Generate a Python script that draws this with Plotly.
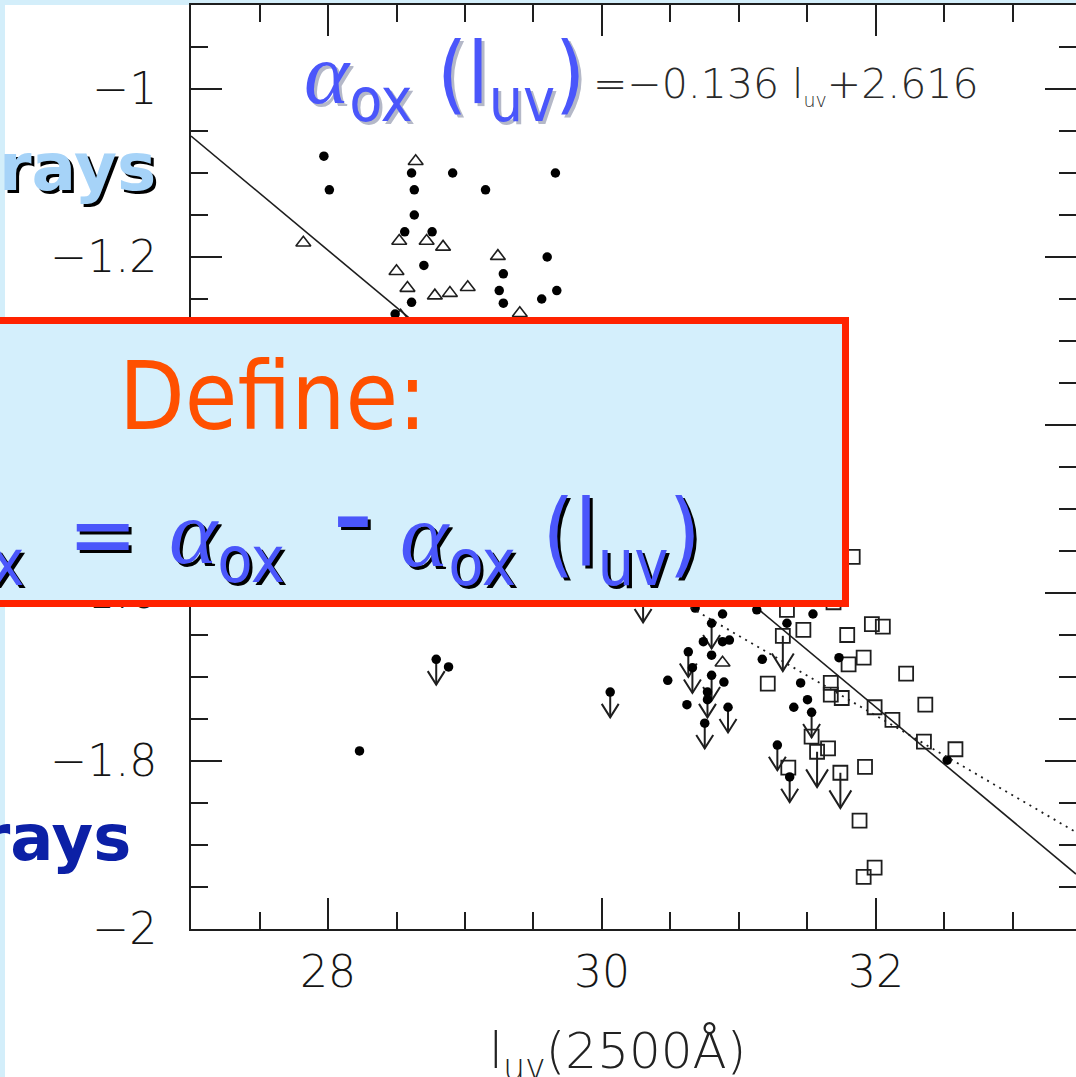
import plotly.graph_objects as go

# ---------------- data ----------------
# optically selected quasars, X-ray detections (filled circles)
det_luv = [27.97, 28.01, 28.61, 28.63, 28.63, 28.56, 28.76, 28.70, 28.91, 29.15,
           29.66, 29.60, 29.28, 29.25, 29.28, 29.56, 29.67, 28.61, 28.49,
           30.68, 30.88, 31.13, 31.54, 31.35, 30.74, 30.88, 30.93, 30.80, 30.48,
           30.89, 30.62, 30.77, 31.17, 31.45, 31.50, 31.40, 31.73, 32.52, 28.88, 28.23]
det_aox = [-1.080, -1.120, -1.100, -1.120, -1.150, -1.170, -1.170, -1.210, -1.100, -1.120,
           -1.100, -1.200, -1.220, -1.240, -1.255, -1.250, -1.240, -1.254, -1.268,
           -1.618, -1.625, -1.620, -1.625, -1.636, -1.658, -1.658, -1.656, -1.674, -1.704,
           -1.706, -1.733, -1.727, -1.679, -1.707, -1.727, -1.736, -1.677, -1.799, -1.688, -1.788]

# X-ray upper limits (filled circle with downward arrow)
lim_luv = [30.06, 30.30, 30.80, 30.63, 30.66, 30.80, 30.77, 30.75, 30.92, 31.53,
           31.28, 31.37, 28.79]
lim_aox = [-1.718, -1.605, -1.636, -1.670, -1.689, -1.698, -1.718, -1.755, -1.736, -1.742,
           -1.781, -1.819, -1.679]

# high-luminosity comparison sample (open squares)
sq_luv = [31.83, 31.35, 31.69, 31.47, 31.79, 31.97, 32.05, 31.80, 31.91, 31.21,
          31.67, 31.67, 31.75, 32.22, 31.99, 32.12, 32.36, 32.35, 32.58, 31.53,
          31.65, 31.36, 31.92, 31.88, 31.99, 31.91]
sq_aox = [-1.557, -1.620, -1.611, -1.644, -1.650, -1.637, -1.640, -1.685, -1.677, -1.708,
          -1.707, -1.721, -1.725, -1.696, -1.736, -1.751, -1.733, -1.777, -1.786, -1.771,
          -1.785, -1.808, -1.807, -1.871, -1.927, -1.938]
sq_lim_luv = [31.32, 31.57, 31.74]
sq_lim_aox = [-1.651, -1.789, -1.814]

# low-luminosity comparison sample (open triangles)
tri_luv = [28.64, 27.82, 28.52, 28.72, 28.84, 28.50, 28.58, 28.78, 28.89, 29.02,
           29.24, 29.40, 28.53, 30.88]
tri_aox = [-1.086, -1.183, -1.181, -1.181, -1.188, -1.217, -1.237, -1.246, -1.243, -1.236,
           -1.199, -1.267, -1.270, -1.683]

# best-fit relation and an alternative fit
fit_slope, fit_icpt = -0.136, 2.616
alt_slope, alt_icpt = -0.095, 1.294

x_range = [27.0, 33.46]
y_range = [-2.0, -0.9]
x_ticks = [28, 30, 32]
y_ticks = [-2.0, -1.8, -1.6, -1.4, -1.2, -1.0]
y_ticktext = ["\u22122", "\u22121.8", "\u22121.6", "\u22121.4", "\u22121.2", "\u22121"]

# ---------------- page geometry ----------------
W, H = 1076, 1077
ML, MR, MT, MB = 191, 0, 5, 148
PW, PH = W - ML - MR, H - MT - MB


def px(x):
    return (x - ML) / PW


def py(y):
    return (H - MB - y) / PH


INK = "#1e1e1e"
CHART_FONT = "DejaVu Sans, sans-serif"
SLIDE_FONT = "DejaVu Sans Condensed, Roboto, sans-serif"
BLUE = "#4a56fb"


def arrows(xs, ys, stem, half_w, head_h):
    """Downward upper-limit arrows: stem plus open V head, in data units."""
    ax, ay = [], []
    for x, y in zip(xs, ys):
        tip = y - stem
        ax += [x, x, None, x - half_w, x, x + half_w, None]
        ay += [y, tip, None, tip + head_h, tip, tip + head_h, None]
    return ax, ay


fig = go.Figure()

lx = list(x_range)
fig.add_trace(go.Scatter(x=lx, y=[fit_slope * v + fit_icpt for v in lx], mode="lines",
                         line=dict(color=INK, width=1.6), hoverinfo="skip"))
ax2 = [29.5, x_range[1]]
fig.add_trace(go.Scatter(x=ax2, y=[alt_slope * v + alt_icpt for v in ax2], mode="lines",
                         line=dict(color=INK, width=1.8, dash="2px,5px"), yaxis="y2",
                         hoverinfo="skip"))

axs, ays = arrows(lim_luv, lim_aox, 0.030, 0.062, 0.016)
fig.add_trace(go.Scatter(x=axs, y=ays, mode="lines", line=dict(color=INK, width=2),
                         hoverinfo="skip"))
axs, ays = arrows(sq_lim_luv, sq_lim_aox, 0.042, 0.080, 0.021)
fig.add_trace(go.Scatter(x=axs, y=ays, mode="lines", line=dict(color=INK, width=2),
                         hoverinfo="skip"))

fig.add_trace(go.Scatter(x=sq_luv + sq_lim_luv, y=sq_aox + sq_lim_aox, mode="markers",
                         marker=dict(symbol="square-open", size=14, color=INK,
                                     line=dict(width=1.8))))
fig.add_trace(go.Scatter(x=tri_luv, y=tri_aox, mode="markers",
                         marker=dict(symbol="triangle-up-open", size=13, color=INK,
                                     line=dict(width=1.6))))
fig.add_trace(go.Scatter(x=det_luv + lim_luv, y=det_aox + lim_aox, mode="markers",
                         marker=dict(symbol="circle", size=9.5, color="#000000")))

tick_font = dict(family=CHART_FONT, size=44, color="#151515", weight=300)
fig.update_layout(
    width=W, height=H, autosize=False,
    margin=dict(l=ML, r=MR, t=MT, b=MB, pad=0),
    paper_bgcolor="#d3eefa", plot_bgcolor="#ffffff",
    showlegend=False,
    xaxis=dict(range=x_range, tickmode="array", tickvals=x_ticks,
               ticktext=[str(v) for v in x_ticks],
               ticks="inside", ticklen=31, tickwidth=2, tickcolor=INK,
               showline=True, linecolor=INK, linewidth=2, mirror="ticks",
               showgrid=False, zeroline=False, tickfont=tick_font,
               ticklabelstandoff=3,
               minor=dict(tick0=27, dtick=0.5, ticks="inside", ticklen=17,
                          tickwidth=2, tickcolor=INK, showgrid=False)),
    yaxis=dict(range=y_range, tickmode="array", tickvals=y_ticks, ticktext=y_ticktext,
               ticks="inside", ticklen=31, tickwidth=2, tickcolor=INK,
               showline=True, linecolor=INK, linewidth=2,
               showgrid=False, zeroline=False, tickfont=tick_font,
               ticklabelstandoff=23,
               minor=dict(tick0=-2, dtick=0.05, ticks="inside", ticklen=17,
                          tickwidth=2, tickcolor=INK, showgrid=False)),
    yaxis2=dict(range=y_range, overlaying="y", side="right", anchor="x",
                tickmode="array", tickvals=y_ticks, showticklabels=False,
                ticks="inside", ticklen=31, tickwidth=2, tickcolor=INK,
                showline=False, showgrid=False, zeroline=False,
                minor=dict(tick0=-2, dtick=0.05, ticks="inside", ticklen=17,
                           tickwidth=2, tickcolor=INK, showgrid=False)),
)

# slide: white figure panel and the highlighted definition box
fig.add_shape(type="rect", xref="paper", yref="paper", layer="below",
              x0=px(5), x1=px(W + 5), y0=py(H + 5), y1=py(5),
              fillcolor="#ffffff", line=dict(width=0))
fig.add_shape(type="rect", xref="paper", yref="paper", layer="above",
              x0=px(-30), x1=px(845.5), y0=py(603.5), y1=py(320.5),
              fillcolor="#d4effc", line=dict(color="#ff2200", width=7))

ALPHA = ("<span style=\"font-family:'Liberation Serif', 'DejaVu Serif', serif;"
         "font-style:italic\">\u03b1</span>")
SMALL_UV = '<sub><span style="font-size:19px">uv</span></sub>'

box_font = dict(family=SLIDE_FONT, size=92, color=BLUE, shadow="3px 3px 0px #000000")
LINE2_TOP = 480

annos = [
    # fitted relation label
    dict(text=ALPHA + "<sub>ox</sub> (l<sub>uv</sub>)", x=px(303), y=py(22),
         xanchor="left", yanchor="top",
         font=dict(family=SLIDE_FONT, size=86, color=BLUE, shadow="3px 3px 0px #b4b8c8")),
    dict(text="=\u22120.136 l" + SMALL_UV + "+2.616", x=px(592), y=py(59),
         xanchor="left", yanchor="top",
         font=dict(family=CHART_FONT, size=41, color="#2a2a2a", weight=300)),
    # definition box
    dict(text="Define:", x=px(118), y=py(340), xanchor="left", yanchor="top",
         font=dict(family=SLIDE_FONT, size=95, color="#ff5000")),
    dict(text="\u0394" + ALPHA + "<sub>ox</sub>", x=px(26), y=py(LINE2_TOP),
         xanchor="right", yanchor="top", font=box_font),
    dict(text="=", x=px(67), y=py(LINE2_TOP), xanchor="left", yanchor="top",
         font=box_font),
    dict(text=ALPHA + "<sub>ox</sub>", x=px(168), y=py(LINE2_TOP),
         xanchor="left", yanchor="top", font=box_font),
    dict(text="<b>\u2013</b>", x=px(333), y=py(LINE2_TOP - 14), xanchor="left",
         yanchor="top",
         font=dict(family=SLIDE_FONT, size=84, color=BLUE, shadow="3px 3px 0px #000000")),
    dict(text=ALPHA + "<sub>ox</sub> (l<sub>uv</sub>)", x=px(702), y=py(LINE2_TOP),
         xanchor="right", yanchor="top", font=box_font),
    # slide side labels
    dict(text="<b>X-rays</b>", x=px(157), y=py(128), xanchor="right", yanchor="top",
         font=dict(family="DejaVu Sans, sans-serif", size=66, color="#a6d3f8",
                   shadow="3px 3px 0px #000000")),
    dict(text="<b>X-rays</b>", x=px(132), y=py(800), xanchor="right", yanchor="top",
         font=dict(family="DejaVu Sans, sans-serif", size=64, color="#0c20a6")),
    # axis title
    dict(text="l<sub>uv</sub>(2500\u00c5)", x=px(488), y=py(1021),
         xanchor="left", yanchor="top",
         font=dict(family=CHART_FONT, size=50, color="#222222", weight=300)),
]
for a in annos:
    fig.add_annotation(xref="paper", yref="paper", showarrow=False, borderpad=0, **a)

fig.write_html("out.html")
